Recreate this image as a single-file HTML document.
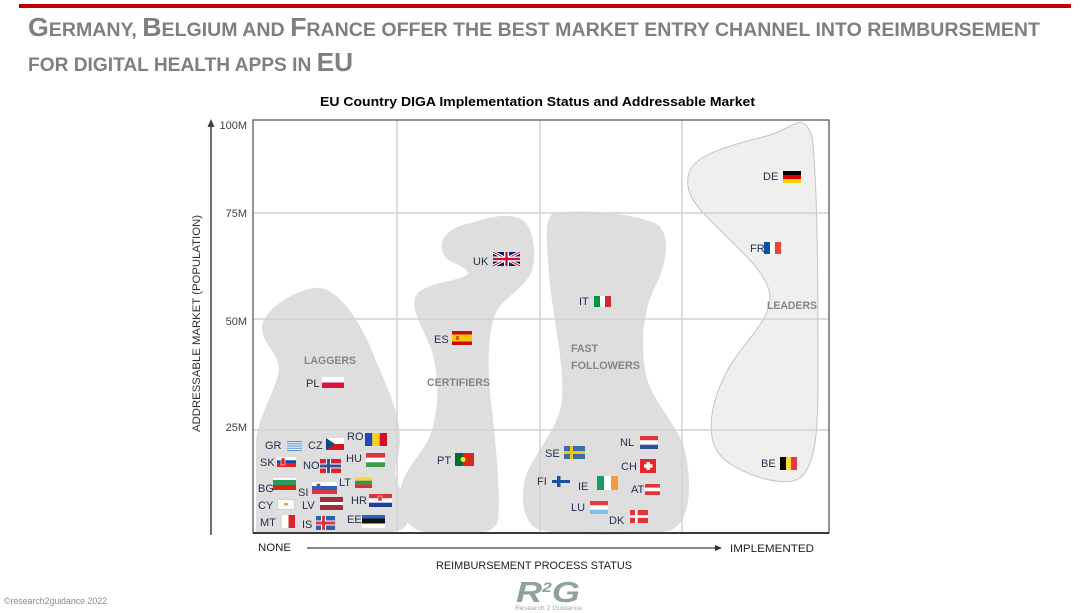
<!DOCTYPE html>
<html>
<head>
<meta charset="utf-8">
<style>
  html,body{margin:0;padding:0;background:#fff;}
  svg{display:block;}
  .lbl{font-family:"Liberation Sans",sans-serif;font-size:11px;fill:#24304f;}
  .cat{font-family:"Liberation Sans",sans-serif;font-size:11px;font-weight:bold;fill:#858585;}
  .tick{font-family:"Liberation Sans",sans-serif;font-size:11px;fill:#404040;}
</style>
</head>
<body>
<svg width="1090" height="613" viewBox="0 0 1090 613" xmlns="http://www.w3.org/2000/svg">
  <defs>
    <clipPath id="ukc"><rect x="493" y="252" width="27" height="14"/></clipPath>
  </defs>
  <rect width="1090" height="613" fill="#fff"/>

  <!-- header -->
  <rect x="19" y="4" width="1052" height="4" fill="#c00000"/>
  <text x="28" y="36" textLength="1012" lengthAdjust="spacingAndGlyphs" font-family="Liberation Sans, sans-serif" font-weight="bold" fill="#7f7f7f"><tspan font-size="26">G</tspan><tspan font-size="19">ERMANY, </tspan><tspan font-size="26">B</tspan><tspan font-size="19">ELGIUM AND </tspan><tspan font-size="26">F</tspan><tspan font-size="19">RANCE OFFER THE BEST MARKET ENTRY CHANNEL INTO REIMBURSEMENT</tspan></text>
  <text x="28" y="71" textLength="325" lengthAdjust="spacingAndGlyphs" font-family="Liberation Sans, sans-serif" font-weight="bold" fill="#7f7f7f"><tspan font-size="19">FOR DIGITAL HEALTH APPS IN </tspan><tspan font-size="26">EU</tspan></text>

  <!-- chart title -->
  <text x="320" y="106" textLength="435" lengthAdjust="spacingAndGlyphs" font-family="Liberation Sans, sans-serif" font-weight="bold" font-size="13" fill="#000">EU Country DIGA Implementation Status and Addressable Market</text>

  <!-- shapes -->
  <path fill="#dedede" d="M 315 288 C 335 285, 358 318, 370 346 C 382 378, 400 408, 400 440 C 400 456, 392 466, 397 482 C 404 498, 413 515, 406 526 C 400 533, 385 533, 360 533 L 256 533 L 256 445 C 256 420, 272 398, 278 375 C 283 355, 262 345, 262 328 C 262 310, 295 290, 315 288 Z"/>
  <path fill="#dedede" d="M 475 222 C 490 216, 515 212, 525 222 C 535 232, 537 262, 530 275 C 520 292, 500 300, 495 315 C 486 340, 488 380, 492 410 C 496 445, 501 500, 498 520 C 495 533, 480 533, 470 533 L 425 532 C 408 530, 398 512, 400 492 C 402 472, 420 456, 428 440 C 440 415, 440 372, 430 346 C 420 322, 408 305, 418 293 C 428 283, 452 282, 465 276 C 472 272, 465 268, 452 262 C 440 256, 438 242, 448 233 C 456 226, 466 224, 475 222 Z"/>
  <path fill="#dedede" d="M 555 213 C 590 208, 640 215, 658 225 C 670 235, 668 262, 655 287 C 643 310, 640 345, 646 375 C 653 405, 680 425, 686 455 C 692 488, 690 520, 672 530 C 652 536, 562 536, 540 530 C 522 524, 519 495, 527 473 C 537 450, 560 425, 562 400 C 565 362, 551 312, 548 262 C 546 232, 545 216, 555 213 Z"/>
  <path fill="#efefef" stroke="#c4c4c4" stroke-width="1" d="M 797 123 C 805 120, 812 130, 813 145 C 818 200, 818 300, 818 380 C 818 430, 816 465, 800 478 C 785 488, 745 476, 725 460 C 705 444, 708 410, 725 375 C 740 345, 770 322, 770 298 C 770 275, 740 250, 715 225 C 695 206, 682 190, 690 170 C 700 150, 750 141, 770 135 C 785 130, 790 125, 797 123 Z"/>

  <!-- gridlines -->
  <g stroke="#d2d2d2" stroke-width="1.5">
    <line x1="253" y1="213" x2="829" y2="213"/>
    <line x1="253" y1="319" x2="829" y2="319"/>
    <line x1="253" y1="430" x2="829" y2="430"/>
    <line x1="397" y1="120" x2="397" y2="533"/>
    <line x1="540" y1="120" x2="540" y2="533"/>
    <line x1="682" y1="120" x2="682" y2="533"/>
  </g>
  <!-- frame -->
  <rect x="253" y="120" width="576" height="413" fill="none" stroke="#5a5a5a" stroke-width="1.3"/>
  <line x1="253" y1="533" x2="829" y2="533" stroke="#3a3a3a" stroke-width="2"/>

  <!-- y axis -->
  <line x1="211" y1="126" x2="211" y2="535" stroke="#404040" stroke-width="1.5"/>
  <polygon points="211,119 207.5,127 214.5,127" fill="#404040"/>
  <text class="tick" x="247" y="129" text-anchor="end">100M</text>
  <text class="tick" x="247" y="217" text-anchor="end">75M</text>
  <text class="tick" x="247" y="325" text-anchor="end">50M</text>
  <text class="tick" x="247" y="431" text-anchor="end">25M</text>
  <text x="0" y="0" transform="translate(200,432) rotate(-90)" textLength="217" lengthAdjust="spacingAndGlyphs" font-family="Liberation Sans, sans-serif" font-size="11" fill="#303030">ADDRESSABLE MARKET (POPULATION)</text>

  <!-- x axis -->
  <text x="258" y="551" textLength="33" lengthAdjust="spacingAndGlyphs" font-family="Liberation Sans, sans-serif" font-size="11" fill="#202020">NONE</text>
  <line x1="307" y1="548" x2="716" y2="548" stroke="#606060" stroke-width="1.5"/>
  <polygon points="722,548 715,545 715,551" fill="#303030"/>
  <text x="730" y="552" textLength="84" lengthAdjust="spacingAndGlyphs" font-family="Liberation Sans, sans-serif" font-size="11" fill="#202020">IMPLEMENTED</text>
  <text x="436" y="569" textLength="196" lengthAdjust="spacingAndGlyphs" font-family="Liberation Sans, sans-serif" font-size="11" fill="#202020">REIMBURSEMENT PROCESS STATUS</text>

  <!-- category labels -->
  <text class="cat" x="304" y="364" textLength="52" lengthAdjust="spacingAndGlyphs">LAGGERS</text>
  <text class="cat" x="427" y="386" textLength="63" lengthAdjust="spacingAndGlyphs">CERTIFIERS</text>
  <text class="cat" x="571" y="352" textLength="27" lengthAdjust="spacingAndGlyphs">FAST</text>
  <text class="cat" x="571" y="369" textLength="69" lengthAdjust="spacingAndGlyphs">FOLLOWERS</text>
  <text class="cat" x="767" y="309" textLength="50" lengthAdjust="spacingAndGlyphs">LEADERS</text>

  <!-- Leaders -->
  <text class="lbl" x="763" y="180">DE</text>
  <rect x="783" y="171" width="18" height="4" fill="#000"/><rect x="783" y="175" width="18" height="4" fill="#dd0000"/><rect x="783" y="179" width="18" height="4" fill="#ffce00"/>
  <text class="lbl" x="750" y="252">FR</text>
  <rect x="764" y="242" width="6" height="12" fill="#0055a4"/><rect x="770" y="242" width="5" height="12" fill="#fff"/><rect x="775" y="242" width="6" height="12" fill="#ef4135"/>
  <text class="lbl" x="761" y="467">BE</text>
  <rect x="780" y="457" width="6" height="13" fill="#000"/><rect x="786" y="457" width="5" height="13" fill="#fdda24"/><rect x="791" y="457" width="6" height="13" fill="#ef3340"/>

  <!-- Certifiers -->
  <text class="lbl" x="473" y="265">UK</text>
  <g clip-path="url(#ukc)">
    <rect x="493" y="252" width="27" height="14" fill="#012169"/>
    <line x1="493" y1="252" x2="520" y2="266" stroke="#fff" stroke-width="3"/>
    <line x1="520" y1="252" x2="493" y2="266" stroke="#fff" stroke-width="3"/>
    <line x1="493" y1="252" x2="520" y2="266" stroke="#c8102e" stroke-width="1"/>
    <line x1="520" y1="252" x2="493" y2="266" stroke="#c8102e" stroke-width="1"/>
    <rect x="504" y="252" width="5" height="14" fill="#fff"/><rect x="493" y="256.5" width="27" height="5" fill="#fff"/>
    <rect x="505.3" y="252" width="2.4" height="14" fill="#c8102e"/><rect x="493" y="257.8" width="27" height="2.4" fill="#c8102e"/>
  </g>
  <text class="lbl" x="434" y="343">ES</text>
  <rect x="452" y="331" width="20" height="14" fill="#c60b1e"/><rect x="452" y="334.5" width="20" height="7" fill="#ffc400"/><rect x="456" y="336" width="3" height="4" fill="#ad1519" opacity="0.6"/>
  <text class="lbl" x="437" y="464">PT</text>
  <rect x="455" y="453" width="8" height="13" fill="#046a38"/><rect x="463" y="453" width="11" height="13" fill="#da291c"/><circle cx="463" cy="459.5" r="2.5" fill="#ffe900"/>

  <!-- Fast followers -->
  <text class="lbl" x="579" y="305">IT</text>
  <rect x="594" y="296" width="6" height="11" fill="#009246"/><rect x="600" y="296" width="5" height="11" fill="#fff"/><rect x="605" y="296" width="6" height="11" fill="#ce2b37"/>
  <text class="lbl" x="545" y="457">SE</text>
  <rect x="564" y="446" width="21" height="13" fill="#3a6ea8"/><rect x="570" y="446" width="3" height="13" fill="#f0c419"/><rect x="564" y="451" width="21" height="3" fill="#f0c419"/>
  <text class="lbl" x="620" y="446">NL</text>
  <rect x="640" y="436" width="18" height="4.3" fill="#e0343c"/><rect x="640" y="440.3" width="18" height="4.4" fill="#fff"/><rect x="640" y="444.7" width="18" height="4.3" fill="#2d4f9e"/>
  <text class="lbl" x="621" y="470">CH</text>
  <rect x="640" y="459" width="16" height="14" fill="#e8262d"/><rect x="646.5" y="462" width="3.5" height="8" fill="#fff"/><rect x="644" y="464.3" width="8.5" height="3.4" fill="#fff"/>
  <text class="lbl" x="537" y="485">FI</text>
  <rect x="557" y="476" width="3.5" height="11" fill="#1e50a0"/><rect x="552" y="480" width="18" height="3" fill="#1e50a0"/>
  <text class="lbl" x="578" y="490">IE</text>
  <rect x="597" y="476" width="7" height="14" fill="#169b62"/><rect x="604" y="476" width="7" height="14" fill="#fff"/><rect x="611" y="476" width="7" height="14" fill="#f29d3b"/>
  <text class="lbl" x="631" y="493">AT</text>
  <rect x="645" y="484" width="15" height="3.7" fill="#e3343c"/><rect x="645" y="487.7" width="15" height="3.6" fill="#fff"/><rect x="645" y="491.3" width="15" height="3.7" fill="#e3343c"/>
  <text class="lbl" x="571" y="511">LU</text>
  <rect x="590" y="501" width="18" height="4.3" fill="#ea3a40"/><rect x="590" y="505.3" width="18" height="4.4" fill="#fff"/><rect x="590" y="509.7" width="18" height="4.3" fill="#7fc0ea"/>
  <text class="lbl" x="609" y="524">DK</text>
  <rect x="630" y="510" width="18" height="13" fill="#e3343c"/><rect x="635" y="510" width="2.6" height="13" fill="#fff"/><rect x="630" y="515.2" width="18" height="2.6" fill="#fff"/>

  <!-- Laggers -->
  <text class="lbl" x="306" y="387">PL</text>
  <rect x="322" y="377" width="22" height="5.5" fill="#fff"/><rect x="322" y="382.5" width="22" height="5.5" fill="#dc143c"/>
  <text class="lbl" x="265" y="449">GR</text>
  <rect x="287" y="441" width="15" height="10" fill="#5a8fd0"/>
  <rect x="287" y="442.2" width="15" height="1.1" fill="#fff"/><rect x="287" y="444.4" width="15" height="1.1" fill="#fff"/><rect x="287" y="446.6" width="15" height="1.1" fill="#fff"/><rect x="287" y="448.8" width="15" height="1.1" fill="#fff"/>
  <text class="lbl" x="308" y="449">CZ</text>
  <rect x="326" y="438" width="18" height="6" fill="#fff"/><rect x="326" y="444" width="18" height="6" fill="#d7141a"/><polygon points="326,438 335,444 326,450" fill="#11457e"/>
  <text class="lbl" x="347" y="440">RO</text>
  <rect x="365" y="433" width="7.3" height="13" fill="#1f47c4"/><rect x="372.3" y="433" width="7.4" height="13" fill="#fcd116"/><rect x="379.7" y="433" width="7.3" height="13" fill="#ce1126"/>
  <text class="lbl" x="260" y="466">SK</text>
  <rect x="277" y="457" width="19" height="3.3" fill="#fff"/><rect x="277" y="460.3" width="19" height="3.4" fill="#0b4ea2"/><rect x="277" y="463.7" width="19" height="3.3" fill="#ee1c25"/><rect x="281" y="458" width="4" height="7" fill="#ee1c25" stroke="#fff" stroke-width="0.6"/>
  <text class="lbl" x="303" y="469">NO</text>
  <rect x="320" y="459" width="21" height="14" fill="#d5232f"/><rect x="326" y="459" width="5" height="14" fill="#fff"/><rect x="320" y="463.5" width="21" height="5" fill="#fff"/><rect x="327" y="459" width="3" height="14" fill="#2f4f9a"/><rect x="320" y="464.5" width="21" height="3" fill="#2f4f9a"/>
  <text class="lbl" x="346" y="462">HU</text>
  <rect x="366" y="453" width="19" height="4.7" fill="#e0343c"/><rect x="366" y="457.7" width="19" height="4.6" fill="#fff"/><rect x="366" y="462.3" width="19" height="4.7" fill="#3f9b4b"/>
  <text class="lbl" x="258" y="492">BG</text>
  <rect x="273" y="478" width="23" height="2" fill="#fff"/><rect x="273" y="480" width="23" height="5" fill="#2a9a5a"/><rect x="273" y="485" width="23" height="5" fill="#d62612"/>
  <text class="lbl" x="298" y="496">SI</text>
  <rect x="312" y="482" width="25" height="4" fill="#fff"/><rect x="312" y="486" width="25" height="4" fill="#2a62c2"/><rect x="312" y="490" width="25" height="4" fill="#e0343c"/><path d="M317 484 l3 0 0 4 -1.5 1.5 -1.5 -1.5 z" fill="#2a62c2" stroke="#e0343c" stroke-width="0.6"/>
  <text class="lbl" x="339" y="486">LT</text>
  <rect x="355" y="477" width="17" height="3.7" fill="#fdd835"/><rect x="355" y="480.7" width="17" height="3.6" fill="#2c9a4a"/><rect x="355" y="484.3" width="17" height="3.7" fill="#d0343c"/>
  <text class="lbl" x="258" y="509">CY</text>
  <rect x="277.5" y="499.5" width="17" height="10" fill="#fbfbfb" stroke="#d0d0d0" stroke-width="1"/><rect x="284" y="503" width="4" height="2.5" fill="#e7a83c"/>
  <text class="lbl" x="302" y="509">LV</text>
  <rect x="320" y="497" width="23" height="5" fill="#9e3039"/><rect x="320" y="502" width="23" height="3" fill="#fff"/><rect x="320" y="505" width="23" height="5" fill="#9e3039"/>
  <text class="lbl" x="351" y="504">HR</text>
  <rect x="369" y="494" width="23" height="4.3" fill="#e0343c"/><rect x="369" y="498.3" width="23" height="4.4" fill="#fff"/><rect x="369" y="502.7" width="23" height="4.3" fill="#1f3f9a"/><rect x="378" y="496" width="4" height="5" fill="#e0343c" stroke="#fff" stroke-width="0.5"/>
  <text class="lbl" x="260" y="526">MT</text>
  <rect x="282" y="515" width="6.5" height="13" fill="#fff"/><rect x="288.5" y="515" width="6.5" height="13" fill="#d82430"/>
  <text class="lbl" x="302" y="528">IS</text>
  <rect x="316" y="516" width="19" height="14" fill="#2a62b0"/><rect x="321" y="516" width="5" height="14" fill="#fff"/><rect x="316" y="520.5" width="19" height="5" fill="#fff"/><rect x="322" y="516" width="3" height="14" fill="#e0343c"/><rect x="316" y="521.5" width="19" height="3" fill="#e0343c"/>
  <text class="lbl" x="347" y="523">EE</text>
  <rect x="362" y="515" width="23" height="3.5" fill="#2a62c2"/><rect x="362" y="518.5" width="23" height="5" fill="#111"/><rect x="362" y="523.5" width="23" height="4.5" fill="#fff"/>

  <!-- footer -->
  <text x="4" y="604" textLength="103" lengthAdjust="spacingAndGlyphs" font-family="Liberation Sans, sans-serif" font-size="9" fill="#8a8a8a">©research2guidance 2022</text>
  <text x="516" y="602" font-family="Liberation Sans, sans-serif" font-weight="bold" font-style="italic" font-size="29" fill="#8fa0a0" textLength="64" lengthAdjust="spacingAndGlyphs">R<tspan font-size="14" dy="-10">2</tspan><tspan dy="10">G</tspan></text>
  <text x="515" y="610" textLength="67" lengthAdjust="spacingAndGlyphs" font-family="Liberation Sans, sans-serif" font-size="6" fill="#9aa8a8">Research 2 Guidance</text>
</svg>
</body>
</html>
